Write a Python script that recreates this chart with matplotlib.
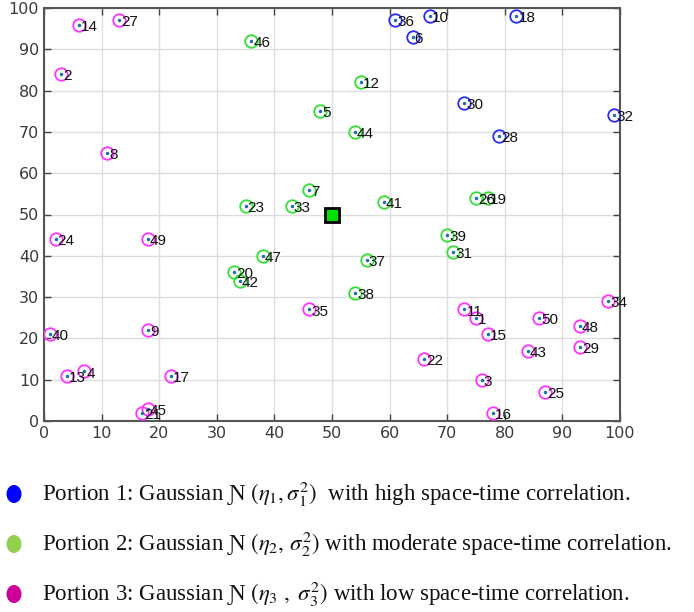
import matplotlib
matplotlib.use("Agg")
import matplotlib.pyplot as plt
from matplotlib.patches import Ellipse

plt.rcParams['mathtext.fontset'] = 'stix'

# Portion 1 (high correlation) - blue
p1_ids = [36, 10, 18, 6, 30, 28, 32]
p1_x = [61, 67, 82, 64, 73, 79, 99]
p1_y = [97, 98, 98, 93, 77, 69, 74]

# Portion 2 (moderate correlation) - green
p2_ids = [46, 12, 5, 44, 7, 23, 33, 41, 26, 19, 39, 31, 47, 37, 20, 42, 38]
p2_x = [36, 55, 48, 54, 46, 35, 43, 59, 75, 77, 70, 71, 38, 56, 33, 34, 54]
p2_y = [92, 82, 75, 70, 56, 52, 52, 53, 54, 54, 45, 41, 40, 39, 36, 34, 31]

# Portion 3 (low correlation) - magenta
p3_ids = [14, 27, 2, 8, 24, 49, 35, 40, 9, 13, 4, 17, 45, 21,
          11, 1, 15, 50, 48, 29, 34, 43, 22, 3, 25, 16]
p3_x = [6, 13, 3, 11, 2, 18, 46, 1, 18, 4, 7, 22, 18, 17,
        73, 75, 77, 86, 93, 93, 98, 84, 66, 76, 87, 78]
p3_y = [96, 97, 84, 65, 44, 44, 27, 21, 22, 11, 12, 11, 3, 2,
        27, 25, 21, 25, 23, 18, 29, 17, 15, 10, 7, 2]

sink_x = [50]
sink_y = [50]

ticks = list(range(0, 101, 10))

fig = plt.figure(figsize=(6.94, 6.12), dpi=100)
ax = fig.add_axes([44/694, 1-421/612, (620-44)/694, (421-8)/612])

groups = [
    (p1_ids, p1_x, p1_y, '#2b2bff'),
    (p2_ids, p2_x, p2_y, '#33e033'),
    (p3_ids, p3_x, p3_y, '#ff33ff'),
]
for ids, xs, ys, col in groups:
    ax.plot(xs, ys, 'o', mfc='none', mec=col, ms=9, mew=1.3, ls='none', zorder=3)
    ax.plot(xs, ys, '.', color='#1f6fa8', ms=3, ls='none', zorder=4)
    for i, x, y in zip(ids, xs, ys):
        ax.annotate(str(i), (x, y), xytext=(1.5, -1.5), textcoords='offset points',
                    ha='left', va='center', fontsize=11, color='#111111',
                    family='Liberation Sans', zorder=5)

ax.plot(sink_x, sink_y, 's', mfc='#00e000', mec='black', mew=2, ms=10, zorder=6)

ax.set_xlim(0, 100)
ax.set_ylim(0, 100)
ax.set_xticks(ticks)
ax.set_yticks(ticks)
ax.grid(True, color='#dddddd', lw=1)
ax.set_axisbelow(True)
ax.tick_params(direction='in', top=True, right=True, length=5, width=1,
               colors='#444444', labelsize=11.5, labelcolor='#3a3a3a')
for lab in ax.get_xticklabels() + ax.get_yticklabels():
    lab.set_family('DejaVu Sans')
for s in ax.spines.values():
    s.set_color('#555555')
    s.set_linewidth(1.5)

# Legend-like descriptions below the plot
rows = [
    ('#0000ff', r'Portion 1: Gaussian Ɲ $(\eta_1,\sigma_1^2)$  with high space-time correlation.'),
    ('#92d050', r'Portion 2: Gaussian Ɲ $(\eta_2,\,\sigma_2^2)$ with moderate space-time correlation.'),
    ('#cc0099', r'Portion 3: Gaussian Ɲ $(\eta_3\ ,\ \sigma_3^2)$ with low space-time correlation.'),
]
row_y = [494, 544, 594]
for (col, txt), yp in zip(rows, row_y):
    yf = 1 - yp/612
    e = Ellipse((14/694, yf), 15/694, 18/612, transform=fig.transFigure,
                facecolor=col, edgecolor='none')
    fig.add_artist(e)
    fig.text(42/694, yf, txt, ha='left', va='center', fontsize=16.5,
             family=['Liberation Serif', 'DejaVu Serif'], color='#111111')

fig.savefig('out.png', dpi=100)
